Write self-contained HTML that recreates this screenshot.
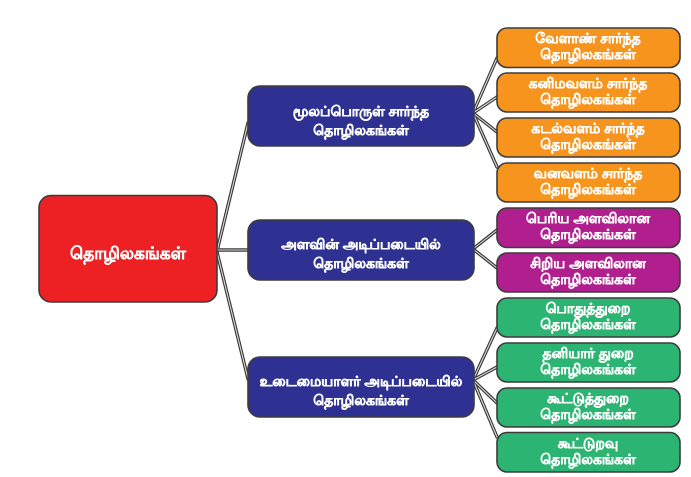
<!DOCTYPE html>
<html>
<head>
<meta charset="utf-8">
<style>
html,body{margin:0;padding:0;background:#fff;}
svg{display:block;}
text{font-family:"Liberation Sans","DejaVu Sans",sans-serif;fill:#fff;font-weight:bold;text-anchor:middle;stroke:#fff;stroke-width:0.45;}
.lo{stroke:#3a3a3a;stroke-width:3.4;fill:none;stroke-linecap:round;}
.li{stroke:#d8d8d8;stroke-width:1.1;fill:none;stroke-linecap:round;}
.bx{stroke:#3c3c3c;stroke-width:1.6;}
.s{font-size:14px;}
.m{font-size:14px;stroke-width:0.5;}
</style>
</head>
<body>
<svg width="691" height="477" viewBox="0 0 691 477" xmlns="http://www.w3.org/2000/svg">
<rect width="691" height="477" fill="#fff" stroke="none"/>
<g class="lo">
<path d="M217 251 L248 123"/>
<path d="M217 250 L248 250"/>
<path d="M217 252 L248 379"/>
<path d="M473 113 L497 58"/>
<path d="M473 113 L497 97"/>
<path d="M473 113 L497 132"/>
<path d="M473 113 L497 167"/>
<path d="M473 249 L497 230"/>
<path d="M473 249 L497 268"/>
<path d="M473 380 L497 328"/>
<path d="M473 380 L497 367"/>
<path d="M473 380 L497 403"/>
<path d="M473 380 L497 437"/>
</g>
<g class="li">
<path d="M217 251 L248 123"/>
<path d="M217 250 L248 250"/>
<path d="M217 252 L248 379"/>
<path d="M473 113 L497 58"/>
<path d="M473 113 L497 97"/>
<path d="M473 113 L497 132"/>
<path d="M473 113 L497 167"/>
<path d="M473 249 L497 230"/>
<path d="M473 249 L497 268"/>
<path d="M473 380 L497 328"/>
<path d="M473 380 L497 367"/>
<path d="M473 380 L497 403"/>
<path d="M473 380 L497 437"/>
</g>

<rect class="bx" x="39" y="195.5" width="178" height="106.5" rx="12" fill="#ed2024"/>
<text x="128" y="259" font-size="17" stroke-width="0.5">தொழிலகங்கள்</text>

<rect class="bx" x="248" y="86" width="226" height="60" rx="12" fill="#2e3192"/>
<text class="m" x="361" y="116">மூலப்பொருள் சார்ந்த</text>
<text class="m" x="361" y="135">தொழிலகங்கள்</text>

<rect class="bx" x="248" y="220" width="226" height="60" rx="12" fill="#2e3192"/>
<text class="m" x="361" y="249">அளவின் அடிப்படையில்</text>
<text class="m" x="361" y="268">தொழிலகங்கள்</text>

<rect class="bx" x="248" y="357" width="226" height="60" rx="12" fill="#2e3192"/>
<text class="m" x="361" y="386">உடைமையாளர் அடிப்படையில்</text>
<text class="m" x="361" y="405">தொழிலகங்கள்</text>

<rect class="bx" x="497" y="28" width="183" height="39.5" rx="10" fill="#f7941d"/>
<text class="s" x="588" y="43">வேளாண் சார்ந்த</text>
<text class="s" x="588" y="59">தொழிலகங்கள்</text>

<rect class="bx" x="497" y="73" width="183" height="39" rx="10" fill="#f7941d"/>
<text class="s" x="588" y="88">கனிமவளம் சார்ந்த</text>
<text class="s" x="588" y="104">தொழிலகங்கள்</text>

<rect class="bx" x="497" y="118" width="183" height="39" rx="10" fill="#f7941d"/>
<text class="s" x="588" y="133">கடல்வளம் சார்ந்த</text>
<text class="s" x="588" y="149">தொழிலகங்கள்</text>

<rect class="bx" x="497" y="163" width="183" height="39" rx="10" fill="#f7941d"/>
<text class="s" x="588" y="178">வனவளம் சார்ந்த</text>
<text class="s" x="588" y="194">தொழிலகங்கள்</text>

<rect class="bx" x="497" y="208" width="183" height="39.5" rx="10" fill="#b01f8d"/>
<text class="s" x="588" y="223">பெரிய அளவிலான</text>
<text class="s" x="588" y="239">தொழிலகங்கள்</text>

<rect class="bx" x="497" y="253" width="183" height="39" rx="10" fill="#b01f8d"/>
<text class="s" x="588" y="268">சிறிய அளவிலான</text>
<text class="s" x="588" y="284">தொழிலகங்கள்</text>

<rect class="bx" x="497" y="298" width="183" height="39" rx="10" fill="#2cb473"/>
<text class="s" x="588" y="313">பொதுத்துறை</text>
<text class="s" x="588" y="329">தொழிலகங்கள்</text>

<rect class="bx" x="497" y="343" width="183" height="39" rx="10" fill="#2cb473"/>
<text class="s" x="588" y="358">தனியார் துறை</text>
<text class="s" x="588" y="374">தொழிலகங்கள்</text>

<rect class="bx" x="497" y="388" width="183" height="39" rx="10" fill="#2cb473"/>
<text class="s" x="588" y="403">கூட்டுத்துறை</text>
<text class="s" x="588" y="419">தொழிலகங்கள்</text>

<rect class="bx" x="497" y="432.5" width="183" height="39.5" rx="10" fill="#2cb473"/>
<text class="s" x="588" y="448">கூட்டுறவு</text>
<text class="s" x="588" y="464">தொழிலகங்கள்</text>
</svg>
</body>
</html>
